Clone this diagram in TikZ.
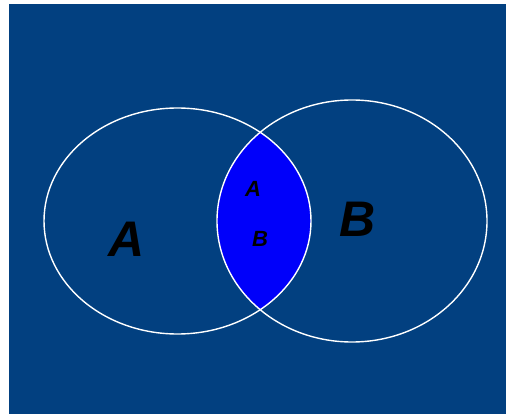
\documentclass[tikz,border=0pt]{standalone}
\usepackage{fontspec}
\setmainfont{Liberation Sans}
\definecolor{bgblue}{RGB}{2,64,128}
\definecolor{lensblue}{RGB}{0,0,250}
\begin{document}
\begin{tikzpicture}[x=1pt,y=-1pt,
  setline/.style={draw=white,line width=1.4pt},
  biglabel/.style={font=\fontsize{50}{50}\selectfont\itshape\bfseries,text=black,inner sep=0pt},
  smalllabel/.style={font=\fontsize{22}{22}\selectfont\itshape\bfseries,text=black,inner sep=0pt}]
\useasboundingbox (0,0) rectangle (506,414);
\fill[white] (0,0) rectangle (506,414);
\fill[bgblue] (9,4) rectangle (506,414);
\begin{scope}
  \clip (177.5,221) ellipse [x radius=133.5, y radius=113];
  \fill[lensblue] (352,221) ellipse [x radius=135, y radius=121];
\end{scope}
\draw[setline] (177.5,221) ellipse [x radius=133.5, y radius=113];
\draw[setline] (352,221) ellipse [x radius=135, y radius=121];
\node[biglabel] (la) at (127,239) {A};
\node[biglabel] (lb) at (358,219) {B};
\node[smalllabel] (sa) at (253,189) {A};
\node[smalllabel] (sb) at (260,239) {B};
\end{tikzpicture}
\end{document}
